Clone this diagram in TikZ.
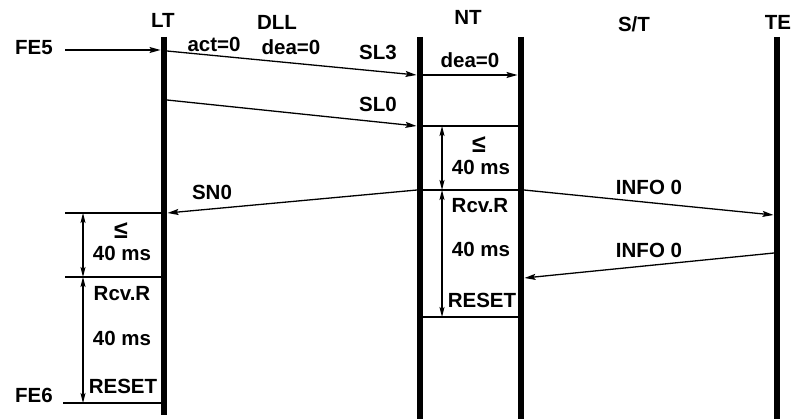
\documentclass[tikz,border=0pt]{standalone}
\usepackage{fontspec}
\setmainfont{Liberation Sans}
\usetikzlibrary{arrows.meta}
\tikzset{
  life/.style={line width=6.5pt},
  msg/.style={line width=1.3pt,-{Stealth[length=11pt,width=6pt,inset=2pt]}},
  dim/.style={line width=1.2pt,{Stealth[length=10pt,width=5pt,inset=2pt]}-{Stealth[length=10pt,width=5pt,inset=2pt]}},
  thin/.style={line width=1.2pt},
  lbl/.style={font=\fontsize{20.5}{22}\selectfont\bfseries,inner sep=0pt,anchor=base},
  lesym/.style={font=\fontsize{25}{26}\selectfont\bfseries,inner sep=0pt,anchor=base},
}
\begin{document}
\begin{tikzpicture}[x=1pt,y=-1pt]
\useasboundingbox (0,0) rectangle (791,419);
% lifelines
\coordinate (LTt) at (164,37);  \coordinate (LTb) at (164,415);
\coordinate (NLt) at (420,37);  \coordinate (NLb) at (420,419);
\coordinate (NRt) at (521,37);  \coordinate (NRb) at (521,419);
\coordinate (TEt) at (777,37);  \coordinate (TEb) at (777,419);
\draw[life] (LTt) -- (LTb);
\draw[life] (NLt) -- (NLb);
\draw[life] (NRt) -- (NRb);
\draw[life] (TEt) -- (TEb);
% headings
\node[lbl] (hLT) at (163,28) {LT};
\node[lbl] (hDLL) at (277,30) {DLL};
\node[lbl] (hNT) at (468,25) {NT};
\node[lbl] (hST) at (634,32) {S/T};
\node[lbl] (hTE) at (778,30) {TE};
% endpoints
\coordinate (fe5) at (65,50);
\coordinate (lt1) at (160.5,50);
\coordinate (lt1o) at (167,51);
\coordinate (nl1) at (416.5,75);
\coordinate (nl1o) at (423,75);
\coordinate (nr1) at (517.5,75);
\coordinate (lt2) at (167,100);
\coordinate (nl2) at (416.5,126);
\coordinate (nl2o) at (423,126);
\coordinate (nr2) at (518,126);
\coordinate (nl3) at (417,190);
\coordinate (nl3o) at (423,190);
\coordinate (nr3) at (518,190);
\coordinate (nr3o) at (524,190);
\coordinate (lt3) at (167.5,213);
\coordinate (te1) at (773.5,215);
\coordinate (te2) at (774,253);
\coordinate (nr4) at (524.5,278);
\coordinate (nl5o) at (423,317);
\coordinate (nr5) at (518,317);
\coordinate (a1) at (65,213);  \coordinate (a1e) at (161,213);
\coordinate (a2) at (65,277);  \coordinate (a2e) at (161,277);
\coordinate (fe6) at (63,403); \coordinate (a3e) at (161,403);
\coordinate (d1) at (83,213); \coordinate (d2) at (83,277); \coordinate (d3) at (83,403);
\coordinate (e1) at (442,126); \coordinate (e2) at (442,190); \coordinate (e3) at (442,317);
% messages
\node[lbl] (tFE5) at (34,55) {FE5};
\draw[msg] (fe5) -- (lt1);
\draw[msg] (lt1o) -- (nl1);
\node[lbl] (tact) at (214,52) {act=0};
\node[lbl] (tdea1) at (291,55) {dea=0};
\node[lbl] (tSL3) at (378,60) {SL3};
\draw[msg] (nl1o) -- (nr1);
\node[lbl] (tdea2) at (470,68) {dea=0};
\draw[msg] (lt2) -- (nl2);
\node[lbl] (tSL0) at (378,112) {SL0};
\draw[thin] (nl2o) -- (nr2);
\draw[thin] (nl3o) -- (nr3);
\draw[thin] (nl5o) -- (nr5);
\draw[msg] (nl3) -- (lt3);
\node[lbl] (tSN0) at (212,200) {SN0};
\draw[msg] (nr3o) -- (te1);
\node[lbl] (tI1) at (649,195) {INFO 0};
\draw[msg] (te2) -- (nr4);
\node[lbl] (tI2) at (649,258) {INFO 0};
% LT timers
\draw[thin] (a1) -- (a1e);
\draw[thin] (a2) -- (a2e);
\draw[thin] (fe6) -- (a3e);
\draw[dim] (d1) -- (d2);
\draw[dim] (d2) -- (d3);
\node[lesym] (tle1) at (121,239) {≤};
\node[lbl] (t40a) at (122,261) {40 ms};
\node[lbl] (tR1) at (122,300) {Rcv.R};
\node[lbl] (t40b) at (122,345) {40 ms};
\node[lbl] (tRS1) at (123,393) {RESET};
\node[lbl] (tFE6) at (34,402) {FE6};
% NT timers
\draw[dim] (e1) -- (e2);
\draw[dim] (e2) -- (e3);
\node[lesym] (tle2) at (479,153) {≤};
\node[lbl] (t40c) at (481,175) {40 ms};
\node[lbl] (tR2) at (480,213) {Rcv.R};
\node[lbl] (t40d) at (481,257) {40 ms};
\node[lbl] (tRS2) at (482,307) {RESET};
\end{tikzpicture}
\end{document}
